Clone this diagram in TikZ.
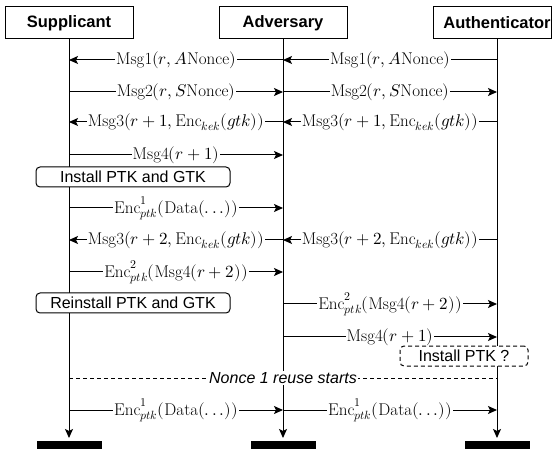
\documentclass[tikz,border=0pt]{standalone}
\usepackage{fontspec}
\usepackage{unicode-math}
\setmathfont{Latin Modern Math}
\setsansfont{Liberation Sans}
\usetikzlibrary{arrows.meta}
\newcommand{\mydots}{\mathinner{.\mkern3mu.\mkern3mu.}}
\tikzset{
  actor/.style={draw, line width=1pt, minimum height=32pt, inner sep=0pt,
    font=\sffamily\bfseries\fontsize{16.5}{19}\selectfont},
  life/.style={line width=1pt, -{Stealth[length=9pt,width=8pt,inset=2pt]}},
  msg/.style={line width=1pt, -{Stealth[length=9pt,width=8pt,inset=2pt]}},
  lbl/.style={fill=white, inner sep=1pt, font=\fontsize{17}{20}\selectfont},
  notebox/.style={draw, fill=white, rounded corners=4pt, line width=1pt,
    minimum height=20pt, inner sep=0pt, font=\sffamily\fontsize{16}{19}\selectfont},
  dashnote/.style={notebox, dash pattern=on 4pt off 3pt},
  sepline/.style={line width=1pt, dash pattern=on 4pt off 3pt},
  seplbl/.style={fill=white, inner sep=1pt, font=\sffamily\itshape\fontsize{16}{19}\selectfont},
  endbar/.style={fill=black, draw=none}
}
\begin{document}
\begin{tikzpicture}[x=1pt, y=-1pt]
\useasboundingbox (0,0) rectangle (552,449);

% actors
\node[actor, minimum width=128pt] (sup) at (69,23) {Supplicant};
\node[actor, minimum width=128pt] (adv) at (283,23) {Adversary};
\node[actor, minimum width=118pt] (aut) at (492,23) {\hspace*{10pt}Authenticator};

% lifeline ends
\coordinate (supE) at (69,438);
\coordinate (advE) at (283,438);
\coordinate (autE) at (497,438);
\coordinate (autT) at (497,39);

\draw[life] (sup.south) -- (supE);
\draw[life] (adv.south) -- (advE);
\draw[life] (autT) -- (autE);

% end bars
\fill[endbar] (36.5,441) rectangle (101.5,449);
\fill[endbar] (250.5,441) rectangle (315.5,449);
\fill[endbar] (464.5,441) rectangle (529.5,449);

% row coordinates
\foreach \n/\y in {1/60,2/92,3/122,4/155,5/208,6/240,7/272,8/304,9/337,10/378,11/410}{
  \coordinate (s\n) at (69,\y);
  \coordinate (a\n) at (283,\y);
  \coordinate (t\n) at (497,\y);
}

% Msg1
\draw[msg] (a1) -- node[lbl] (m1l) {$\mathup{Msg1}(r, A\mathup{Nonce})$} (s1);
\draw[msg] (t1) -- node[lbl] (m1r) {$\mathup{Msg1}(r, A\mathup{Nonce})$} (a1);
% Msg2
\draw[msg] (s2) -- node[lbl] (m2l) {$\mathup{Msg2}(r, S\mathup{Nonce})$} (a2);
\draw[msg] (a2) -- node[lbl] (m2r) {$\mathup{Msg2}(r, S\mathup{Nonce})$} (t2);
% Msg3 r+1
\draw[msg] (a3) -- node[lbl] (m3l) {$\mathup{Msg3}(r+1, \mathup{Enc}_{kek}(gtk))$} (s3);
\draw[msg] (t3) -- node[lbl] (m3r) {$\mathup{Msg3}(r+1, \mathup{Enc}_{kek}(gtk))$} (a3);
% Msg4 r+1
\draw[msg] (s4) -- node[lbl] (m4l) {$\mathup{Msg4}(r+1)$} (a4);

\node[notebox, minimum width=194pt] (inst) at (133,177) {Install PTK and GTK};

% Enc1 data
\draw[msg] (s5) -- node[lbl] (e1l) {$\mathup{Enc}^1_{ptk}(\mathup{Data}(\mydots))$} (a5);
% Msg3 r+2
\draw[msg] (a6) -- node[lbl] (m6l) {$\mathup{Msg3}(r+2, \mathup{Enc}_{kek}(gtk))$} (s6);
\draw[msg] (t6) -- node[lbl] (m6r) {$\mathup{Msg3}(r+2, \mathup{Enc}_{kek}(gtk))$} (a6);
% Enc2 Msg4
\draw[msg] (s7) -- node[lbl] (e2l) {$\mathup{Enc}^2_{ptk}(\mathup{Msg4}(r+2))$} (a7);

\node[notebox, minimum width=194pt] (reinst) at (133,303) {Reinstall PTK and GTK};

\draw[msg] (a8) -- node[lbl] (e2r) {$\mathup{Enc}^2_{ptk}(\mathup{Msg4}(r+2))$} (t8);
\draw[msg] (a9) -- node[lbl] (m9r) {$\mathup{Msg4}(r+1)$} (t9);

\node[dashnote, minimum width=128pt] (instq) at (464,356) {Install PTK ?};

% separator
\draw[sepline] (s10) -- node[seplbl] (sep) {Nonce 1 reuse starts} (t10);

% Enc1 data both
\draw[msg] (s11) -- node[lbl] (e3l) {$\mathup{Enc}^1_{ptk}(\mathup{Data}(\mydots))$} (a11);
\draw[msg] (a11) -- node[lbl] (e3r) {$\mathup{Enc}^1_{ptk}(\mathup{Data}(\mydots))$} (t11);
\end{tikzpicture}
\end{document}
